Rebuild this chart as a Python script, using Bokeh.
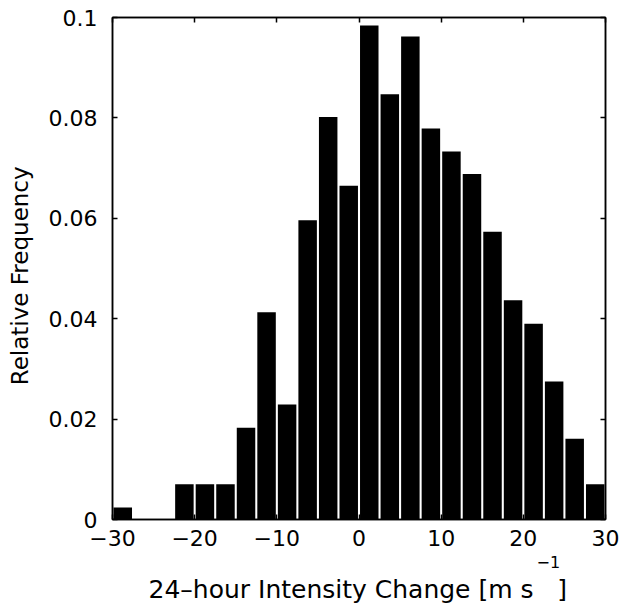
import math
from bokeh.plotting import figure
from bokeh.models import LinearAxis, FixedTicker, Title, ColumnDataSource, Range1d
from bokeh.embed import file_html
from bokeh.resources import INLINE

# Data: bin centers (width 2.5) and relative frequency
bin_centers = [-28.75, -26.25, -23.75, -21.25, -18.75, -16.25, -13.75, -11.25,
               -8.75, -6.25, -3.75, -1.25, 1.25, 3.75, 6.25, 8.75,
               11.25, 13.75, 16.25, 18.75, 21.25, 23.75, 26.25, 28.75]
rel_freq = [0.0024, 0.0, 0.0, 0.0070, 0.0070, 0.0070, 0.0183, 0.0413,
            0.0229, 0.0596, 0.0802, 0.0665, 0.0984, 0.0847, 0.0962, 0.0779,
            0.0733, 0.0688, 0.0573, 0.0437, 0.0390, 0.0275, 0.0161, 0.0070]
x_ticks = [-30, -20, -10, 0, 10, 20, 30]
y_ticks = [0, 0.02, 0.04, 0.06, 0.08, 0.1]
y_tick_labels = ["0", "0.02", "0.04", "0.06", "0.08", "0.1"]
NB = "\u00a0"
x_label = "24\u2013hour Intensity Change [m s" + NB * 3 + "]"
x_label_sup = "\u22121"
y_label = "Relative Frequency" + NB * 2

FONT = "DejaVu Sans"
FS = "22px"

p = figure(width=619, height=603, output_backend="svg", toolbar_location=None,
           x_range=Range1d(-30, 30), y_range=Range1d(0, 0.1),
           min_border_left=112, min_border_right=14, min_border_top=17,
           min_border_bottom=83, x_axis_location="below")
p.background_fill_color = "white"
p.border_fill_color = "white"
p.grid.visible = False
p.outline_line_color = "black"
p.outline_line_width = 1.5

src = ColumnDataSource(dict(x=bin_centers, top=rel_freq))
p.vbar(x="x", top="top", bottom=0, width=2.25, source=src,
       fill_color="black", line_color=None)

def style(ax, ticks, show_labels=True):
    ax.ticker = FixedTicker(ticks=ticks)
    ax.major_tick_in = 5
    ax.major_tick_out = 0
    ax.minor_tick_in = 0
    ax.minor_tick_out = 0
    ax.axis_line_width = 1.5
    ax.major_tick_line_width = 1.5
    ax.major_label_text_font = FONT
    ax.major_label_text_font_size = FS
    ax.major_label_text_color = "black"
    ax.major_label_standoff = 10
    if not show_labels:
        ax.major_label_text_alpha = 0

style(p.xaxis[0], x_ticks)
style(p.yaxis[0], y_ticks)
p.xaxis[0].major_label_overrides = {t: ("\u2212" + str(abs(t)) if t < 0 else str(t)) for t in x_ticks}
p.yaxis[0].major_label_overrides = {t: l for t, l in zip(y_ticks, y_tick_labels)}
p.yaxis[0].major_label_standoff = 15
p.yaxis[0].axis_label = y_label
p.yaxis[0].axis_label_text_font = FONT
p.yaxis[0].axis_label_text_font_size = "23px"
p.yaxis[0].axis_label_text_font_style = "normal"
p.yaxis[0].axis_label_text_color = "black"
p.yaxis[0].axis_label_standoff = 13

top_ax = LinearAxis()
style(top_ax, x_ticks, False)
p.add_layout(top_ax, "above")
right_ax = LinearAxis()
style(right_ax, y_ticks, False)
p.add_layout(right_ax, "right")

# x-axis title with raised exponent, as two stacked titles below the axis
p.add_layout(Title(text=x_label_sup, align="left", offset=424, standoff=10,
                   text_font=FONT, text_font_size="16px", text_font_style="normal",
                   text_color="black"), "below")
p.add_layout(Title(text=x_label, align="left", offset=36, standoff=0,
                   text_font=FONT, text_font_size="25px", text_font_style="normal",
                   text_color="black"), "below")

open("out.html", "w").write(file_html(p, INLINE))
